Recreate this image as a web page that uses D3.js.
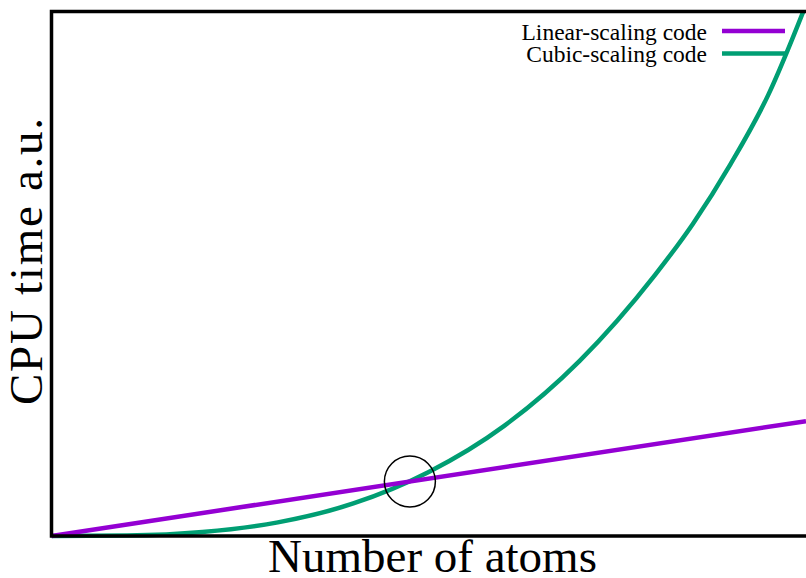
<!DOCTYPE html>
<html>
<head>
<meta charset="utf-8">
<script src="https://cdn.jsdelivr.net/npm/d3@7"></script>
<style>
  html, body { margin: 0; padding: 0; background: #fff; }
  svg { display: block; }
  text { font-family: "Liberation Serif", "Times New Roman", serif; fill: #000; }
</style>
</head>
<body>
<svg id="chart" width="806" height="578"></svg>
<script>
// Problem size (arbitrary units, 0..1 across the frame)
const atoms = [0, 0.1, 0.2, 0.3, 0.4, 0.5, 0.6, 0.7, 0.8, 0.85, 0.9, 0.95, 1.0];
// CPU time of the cubic-scaling code at each size
const cubicTime = [0, 0.001, 0.0078, 0.026, 0.062, 0.122, 0.210, 0.334, 0.498, 0.595, 0.709, 0.841, 1.013];
// CPU time of the linear-scaling code (a straight line)
const linearAtoms = [0, 1.0];
const linearTime = [0, 0.219];
// Crossover point, marked with a circle
const crossover = [0.475, 0.104];

const seriesNames = ["Linear-scaling code", "Cubic-scaling code"];
const seriesColors = ["#9400D3", "#009E73"];

const svg = d3.select("#chart");
const plotLeft = 51.5, plotTop = 11.5, plotBottom = 536, plotRight = 806;

const x = d3.scaleLinear().domain([0, 1]).range([plotLeft, plotRight]);
const y = d3.scaleLinear().domain([0, 1]).range([plotBottom, plotTop]);

// Clip the curves to the plotting frame
svg.append("defs").append("clipPath").attr("id", "plot-clip")
  .append("rect")
  .attr("x", plotLeft).attr("y", plotTop)
  .attr("width", 900).attr("height", plotBottom - plotTop + 3);

const line = d3.line().x(d => x(d[0])).y(d => y(d[1]));
const smooth = d3.line().x(d => x(d[0])).y(d => y(d[1])).curve(d3.curveMonotoneX);

const curves = svg.append("g").attr("clip-path", "url(#plot-clip)");

curves.append("path")
  .datum(d3.zip(atoms, cubicTime))
  .attr("d", smooth)
  .attr("fill", "none")
  .attr("stroke", seriesColors[1])
  .attr("stroke-width", 4.5);

curves.append("path")
  .datum(d3.zip(linearAtoms, linearTime))
  .attr("d", line)
  .attr("fill", "none")
  .attr("stroke", seriesColors[0])
  .attr("stroke-width", 4.5);

// Frame (right side runs past the edge of the canvas)
svg.append("path")
  .attr("d", `M${plotRight + 20},${plotTop}H${plotLeft}V${plotBottom}H${plotRight + 20}`)
  .attr("fill", "none")
  .attr("stroke", "#000")
  .attr("stroke-width", 3.5);

// Crossover marker
svg.append("circle")
  .attr("cx", x(crossover[0]))
  .attr("cy", y(crossover[1]))
  .attr("r", 25.5)
  .attr("fill", "none")
  .attr("stroke", "#000")
  .attr("stroke-width", 1.5);

// Legend
const legend = svg.append("g");
seriesNames.forEach((name, i) => {
  const ly = 31 + i * 22.5;
  legend.append("text")
    .attr("x", 707).attr("y", ly + 8.5)
    .attr("text-anchor", "end")
    .style("font-size", "23.5px")
    .text(name);
  legend.append("line")
    .attr("x1", 722).attr("x2", 785)
    .attr("y1", ly).attr("y2", ly)
    .attr("stroke", seriesColors[i])
    .attr("stroke-width", 4.5);
});

// Axis titles
svg.append("text")
  .attr("x", 432.5).attr("y", 572)
  .attr("text-anchor", "middle")
  .style("font-size", "47px")
  .text("Number of atoms");

svg.append("text")
  .attr("transform", "translate(42,261.5) rotate(-90)")
  .attr("text-anchor", "middle")
  .attr("textLength", 287)
  .attr("lengthAdjust", "spacing")
  .style("font-size", "47px")
  .text("CPU time a.u.");
</script>
</body>
</html>
